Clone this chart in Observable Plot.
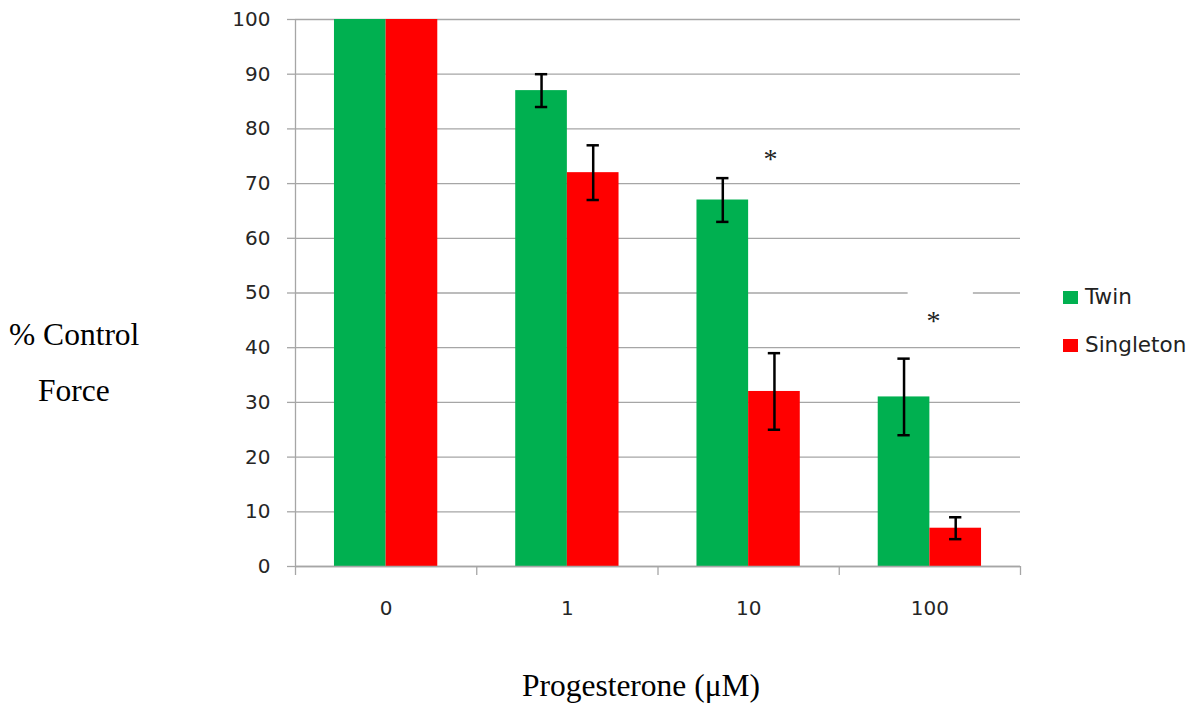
<!DOCTYPE html>
<html>
<head>
<meta charset="utf-8">
<script src="https://cdn.jsdelivr.net/npm/d3@7"></script>
<script src="https://cdn.jsdelivr.net/npm/@observablehq/plot@0.6"></script>
<style>
  html, body { margin: 0; padding: 0; background: #fff; }
  #wrap { position: relative; width: 1190px; height: 711px; overflow: hidden; }
  #wrap svg { position: absolute; left: 0; top: 0; }
  .serif { position: absolute; font-family: "Liberation Serif", "Times New Roman", serif; font-size: 31.5px; line-height: 30px; color: #000; white-space: nowrap; }
  .leg { position: absolute; font-family: "DejaVu Sans", sans-serif; font-size: 21.5px; line-height: 22px; color: #222; white-space: nowrap; }
  .sw { position: absolute; width: 15px; height: 13px; }
</style>
</head>
<body>
<div id="wrap">
  <div class="serif" style="left:9px; top:320px;">% Control</div>
  <div class="serif" style="left:38px; top:376px;">Force</div>
  <div class="serif" style="left:0; width:1282px; text-align:center; top:671px;">Progesterone (μM)</div>
  <div class="sw" style="left:1063px; top:291px; background:#00B050;"></div>
  <div class="leg" style="left:1085px; top:286px;">Twin</div>
  <div class="sw" style="left:1063px; top:339px; background:#FF0000;"></div>
  <div class="leg" style="left:1085px; top:334px;">Singleton</div>
</div>
<script>
// ---- data ----
const categories = ["0", "1", "10", "100"];
const seriesNames = ["Twin", "Singleton"];
const twin = [100, 87, 67, 31];
const twinErr = [0, 3, 4, 7];
const singleton = [100, 72, 32, 7];
const singletonErr = [0, 5, 7, 2];
const yTicks = [0, 10, 20, 30, 40, 50, 60, 70, 80, 90, 100];
const starCategories = ["10", "100"];
const starOffsets = [0.12, 0.02];
const starValues = [75, 45.5];

// ---- layout constants ----
const colors = {Twin: "#00B050", Singleton: "#FF0000"};
const inset = 0.215;      // empty fraction at each side of a category band
const capHalf = 0.034;    // error-bar cap half-width (band fraction)
const gridColor = "#a6a6a6";

const rows = categories.flatMap((c, i) => [
  {cat: c, i, series: "Twin", value: twin[i], err: twinErr[i]},
  {cat: c, i, series: "Singleton", value: singleton[i], err: singletonErr[i]}
]).map(d => {
  const x1 = d.i + (d.series === "Twin" ? inset : 0.5);
  const x2 = d.i + (d.series === "Twin" ? 0.5 : 1 - inset);
  return {...d, x1, x2, xc: (x1 + x2) / 2};
});
const errs = rows.filter(d => d.err > 0);
const stars = starCategories.map((c, k) => ({
  x: categories.indexOf(c) + 0.5 + starOffsets[k], y: starValues[k]
}));
const boundaries = d3.range(categories.length + 1);
const centers = categories.map((c, i) => i + 0.5);

const chart = Plot.plot({
  width: 1190,
  height: 711,
  marginLeft: 295,
  marginRight: 170,
  marginTop: 19,
  marginBottom: 145,
  style: {fontFamily: "DejaVu Sans, sans-serif", background: "transparent"},
  x: {type: "linear", domain: [0, categories.length], axis: null},
  y: {domain: [0, 100], axis: null},
  marks: [
    Plot.ruleY(yTicks, {x1: 0, x2: categories.length, stroke: gridColor, strokeWidth: 1.3}),
    // white box behind the second asterisk interrupts the 50 gridline
    Plot.ruleY([50], {x1: stars[1].x - 0.14, x2: stars[1].x + 0.22, stroke: "#fff", strokeWidth: 3}),
    Plot.rect(rows, {x1: "x1", x2: "x2", y1: 0, y2: "value", fill: d => colors[d.series]}),
    Plot.ruleX(errs, {x: "xc", y1: d => d.value - d.err, y2: d => d.value + d.err, stroke: "#000", strokeWidth: 2.5}),
    Plot.ruleY(errs, {x1: d => d.xc - capHalf, x2: d => d.xc + capHalf, y: d => d.value + d.err, stroke: "#000", strokeWidth: 2.5}),
    Plot.ruleY(errs, {x1: d => d.xc - capHalf, x2: d => d.xc + capHalf, y: d => d.value - d.err, stroke: "#000", strokeWidth: 2.5}),
    Plot.text(stars, {x: "x", y: "y", text: () => "*", fontSize: 28, fontFamily: "Liberation Serif, serif", fill: "#222", dy: 3}),
    // axes
    Plot.ruleX([0], {y1: 0, y2: 100, stroke: gridColor, strokeWidth: 1.3}),
    Plot.ruleY([0], {x1: 0, x2: categories.length, stroke: gridColor, strokeWidth: 1.3}),
    Plot.axisY({ticks: yTicks, tickSize: 8, tickPadding: 17, stroke: gridColor, fill: "#262626", fontSize: 20, strokeWidth: 1.3}),
    Plot.axisX({ticks: boundaries, tickSize: 9, tickFormat: () => "", stroke: gridColor, strokeWidth: 1.3}),
    Plot.axisX({ticks: centers, tickSize: 0, tickPadding: 34, tickFormat: d => categories[Math.floor(d)], fill: "#262626", fontSize: 20})
  ]
});
document.getElementById("wrap").prepend(chart);
</script>
</body>
</html>
